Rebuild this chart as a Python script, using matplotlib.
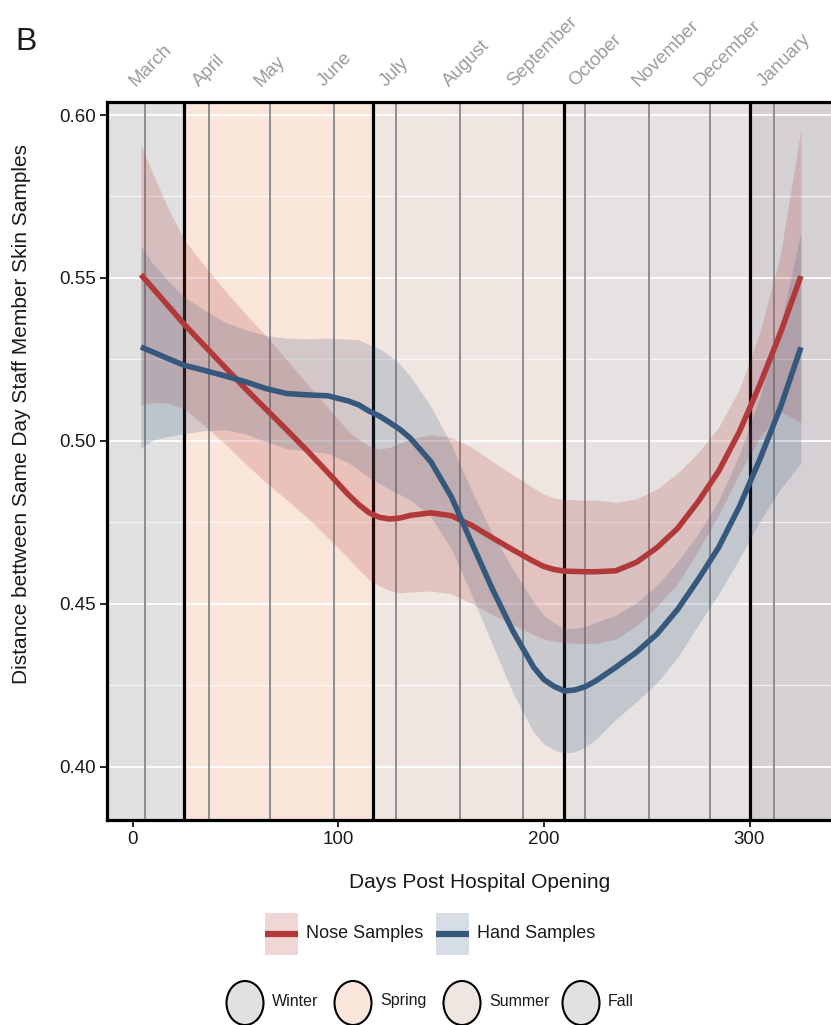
import matplotlib
matplotlib.use("Agg")
import matplotlib.pyplot as plt
from matplotlib.patches import Rectangle, Ellipse
import matplotlib.transforms as mtransforms
import numpy as np

plt.rcParams['font.family'] = ['Liberation Sans', 'DejaVu Sans']

# ---- data -------------------------------------------------------------
days = [4, 10, 17, 25, 35, 45, 55, 65, 75, 85,
        95, 105, 110, 115, 120, 125, 130, 135, 145, 155,
        165, 175, 185, 195, 200, 205, 210, 215, 220, 225,
        235, 245, 255, 265, 275, 285, 295, 305, 315, 325]

nose_mean = [0.5510, 0.5467, 0.5416, 0.5358, 0.5291, 0.5225, 0.5159, 0.5096, 0.5033, 0.4969,
             0.4902, 0.4834, 0.4804, 0.4779, 0.4765, 0.4760, 0.4763, 0.4771, 0.4779, 0.4770,
             0.4740, 0.4702, 0.4665, 0.4630, 0.4614, 0.4605, 0.4600, 0.4599, 0.4598, 0.4598,
             0.4601, 0.4627, 0.4672, 0.4731, 0.4813, 0.4907, 0.5027, 0.5172, 0.5331, 0.5506]
nose_halfwidth = [0.040, 0.035, 0.030, 0.026, 0.0245, 0.0235, 0.023, 0.0225, 0.0215, 0.0205,
                  0.020, 0.0195, 0.020, 0.0205, 0.021, 0.022, 0.023, 0.0235, 0.024, 0.024,
                  0.024, 0.0235, 0.023, 0.0225, 0.0222, 0.022, 0.022, 0.022, 0.022, 0.022,
                  0.021, 0.0195, 0.018, 0.017, 0.015, 0.0135, 0.013, 0.016, 0.024, 0.045]

hand_mean = [0.5288, 0.5272, 0.5253, 0.5232, 0.5216, 0.5199, 0.5181, 0.5160, 0.5145, 0.5141,
             0.5138, 0.5122, 0.5110, 0.5091, 0.5076, 0.5056, 0.5035, 0.5008, 0.4936, 0.4828,
             0.4685, 0.4544, 0.4415, 0.4305, 0.4267, 0.4246, 0.4232, 0.4235, 0.4245, 0.4262,
             0.4305, 0.4351, 0.4407, 0.4482, 0.4574, 0.4673, 0.4797, 0.4943, 0.5102, 0.5287]
hand_halfwidth = [0.031, 0.027, 0.024, 0.021, 0.0185, 0.0165, 0.016, 0.0163, 0.017, 0.0172,
                  0.0177, 0.019, 0.020, 0.0205, 0.0207, 0.0205, 0.020, 0.019, 0.017, 0.016,
                  0.016, 0.017, 0.019, 0.020, 0.0198, 0.0195, 0.019, 0.019, 0.0185, 0.018,
                  0.016, 0.0152, 0.015, 0.0147, 0.014, 0.0143, 0.016, 0.019, 0.025, 0.0355]

month_names = ['March', 'April', 'May', 'June', 'July', 'August', 'September',
               'October', 'November', 'December', 'January']
month_start_day = [6, 37, 67, 98, 128, 159, 190, 220, 251, 281, 312]

season_start = [-20, 25, 117, 210, 300]
season_end = [25, 117, 210, 300, 360]
season_span_fill = ['#e0e0e0', '#fae5da', '#efe6e1', '#e5e2e1', '#d4d0d4']

legend_seasons = ['Winter', 'Spring', 'Summer', 'Fall']
legend_season_fill = ['#e1e1e1', '#fbe6dc', '#f0e6e1', '#e3e0e0']

nose_color = '#b2393a'
hand_color = '#37587d'

# ---- figure -----------------------------------------------------------
W, H = 831, 1025
fig = plt.figure(figsize=(W / 100, H / 100), dpi=100)
ax = fig.add_axes([107 / W, 1 - 820 / H, (833 - 107) / W, (820 - 102) / H])
ax.set_xlim(-12.5, 340.6)
ax.set_ylim(0.3836, 0.604)

# season background bands
for s0, s1, c in zip(season_start, season_end, season_span_fill):
    ax.axvspan(s0, s1, color=c, lw=0, zorder=0)

# horizontal grid
for v in [0.40, 0.45, 0.50, 0.55, 0.60]:
    ax.axhline(v, color='white', lw=1.3, zorder=1)
for v in [0.425, 0.475, 0.525, 0.575]:
    ax.axhline(v, color='white', lw=0.9, alpha=0.7, zorder=1)

# month starts and season boundaries
for d in month_start_day:
    ax.axvline(d, color='#8e8e8e', lw=1.4, zorder=2)
for d in season_start[1:]:
    ax.axvline(d, color='black', lw=2.3, zorder=2)

# smoothed trends with confidence ribbons
d = np.array(days)
for mean, hw, col in [(nose_mean, nose_halfwidth, nose_color),
                      (hand_mean, hand_halfwidth, hand_color)]:
    m = np.array(mean)
    h = np.array(hw)
    ax.fill_between(d, m - h, m + h, color=col, alpha=0.2, lw=0, zorder=3)
for mean, col in [(nose_mean, nose_color), (hand_mean, hand_color)]:
    ax.plot(d, mean, color=col, lw=4, solid_capstyle='butt',
            solid_joinstyle='round', zorder=4)

# axes styling
for side in ['left', 'bottom', 'top']:
    ax.spines[side].set_linewidth(2.3)
    ax.spines[side].set_color('black')
ax.spines['right'].set_visible(False)
ax.set_xticks([0, 100, 200, 300])
ax.set_yticks([0.40, 0.45, 0.50, 0.55, 0.60])
ax.set_yticklabels(['0.40', '0.45', '0.50', '0.55', '0.60'])
ax.tick_params(axis='both', length=5, width=1.2, color='black',
               labelsize=13.5, labelcolor='#1a1a1a', pad=3)
ax.set_zorder(1)

# month labels along the top
top_off = mtransforms.offset_copy(
    mtransforms.blended_transform_factory(ax.transData, ax.transAxes),
    fig=fig, x=-10, y=15, units='dots')
for name, dd in zip(month_names, month_start_day):
    ax.text(dd, 1.0, name, transform=top_off, rotation=45,
            rotation_mode='anchor', ha='left', va='baseline',
            fontsize=13.5, color='#9c9c9c', clip_on=False)

# titles
fig.text(15 / W, 1 - 50 / H, 'B', fontsize=23, va='baseline', ha='left',
         color='#1a1a1a')
fig.text(22 / W, 1 - 414 / H,
         'Distance bettween Same Day Staff Member Skin Samples',
         rotation=90, fontsize=15, va='center', ha='center', color='#1a1a1a')
fig.text(480 / W, 1 - 882 / H, 'Days Post Hospital Opening', fontsize=15,
         va='center', ha='center', color='#1a1a1a')

# legends drawn in pixel space
lg = fig.add_axes([0, 0, 1, 1 - 860 / H])
lg.set_xlim(0, W)
lg.set_ylim(H, 860)
lg.axis('off')

for x0, col, label in [(265, nose_color, 'Nose Samples'),
                       (436, hand_color, 'Hand Samples')]:
    lg.add_patch(Rectangle((x0, 913), 33, 42, facecolor=col, alpha=0.2, lw=0))
    lg.plot([x0, x0 + 33], [934, 934], color=col, lw=4.5,
            solid_capstyle='butt')
    lg.text(x0 + 41, 933, label, fontsize=13, va='center', ha='left',
            color='#1a1a1a')

for cx, col, label in zip([245, 353, 462, 581], legend_season_fill,
                          legend_seasons):
    lg.add_patch(Ellipse((cx, 1003), 37, 44, facecolor=col,
                         edgecolor='black', lw=1.5, clip_on=False))
    lg.text(cx + 27, 1001, label, fontsize=11.5, va='center', ha='left',
            color='#1a1a1a')

fig.savefig('out.png', dpi=100)
